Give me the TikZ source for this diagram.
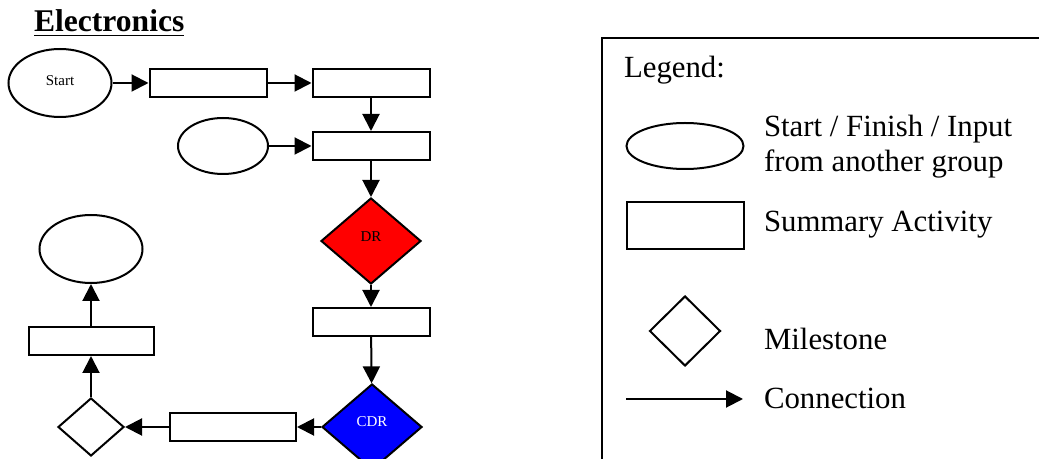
\documentclass[tikz,border=0pt]{standalone}
\usepackage{fontspec}
\setmainfont{Liberation Serif}
\usetikzlibrary{shapes.geometric,arrows.meta}

\begin{document}
\begin{tikzpicture}[
	                   x = 0.5pt,
	                   y = -0.5pt,
	         line width = 1pt,
	     terminal/.style = {draw, ellipse, inner sep=0pt, minimum width=51.5pt, minimum height=34pt},
	     activity/.style = {draw, rectangle, inner sep=0pt, minimum width=58.5pt, minimum height=14pt},
	    milestone/.style = {draw, diamond, inner sep=0pt, minimum width=50pt, minimum height=43pt},
	         conn/.style = {-{Triangle[length=8.5pt,width=8.5pt]}},
	       legtext/.style = {anchor=base west, inner sep=0pt, font=\fontsize{15.4}{17.5}\selectfont}
	                     ]
		\clip (0,0) rectangle (1039,459);
		\node[anchor=base west, inner sep=0pt, font=\fontsize{15.8}{18}\selectfont\bfseries] (title) at (33,32) {\underline{Electronics}};

		\node[terminal, font=\fontsize{7.5}{9}\selectfont] (start) at (60,83) {\raisebox{2pt}{Start}};
		\node[activity] (a1) at (208,83) {};
		\node[activity] (a2) at (371,83) {};
		\node[terminal, minimum width=45pt, minimum height=28pt] (input) at (223,146) {};
		\node[activity] (a3) at (371,146) {};
		\node[milestone, fill=red, font=\fontsize{7.5}{9}\selectfont] (dr) at (371,241) {\raisebox{4.5pt}{DR}};
		\node[activity] (a4) at (371,322) {};
		\node[milestone, fill=blue, text=white, font=\fontsize{7.5}{9}\selectfont] (cdr) at (372,427) {\raisebox{5pt}{CDR}};
		\node[activity, minimum width=63pt] (a5) at (233,427) {};
		\node[milestone, minimum width=33pt, minimum height=29pt] (ms) at (91,427) {};
		\node[activity, minimum width=62.5pt] (a6) at (91,341) {};
		\node[terminal] (finish) at (91,249) {};

		\draw[conn] (start) -- (a1);
		\draw[conn] (a1) -- (a2);
		\draw[conn] (a2) -- (a3);
		\draw[conn] (input) -- (a3);
		\draw[conn] (a3) -- (dr);
		\draw[conn] (dr) -- (a4);
		\draw[conn] (a4) -- (cdr);
		\draw[conn] (cdr) -- (a5);
		\draw[conn] (a5) -- (ms);
		\draw[conn] (ms) -- (a6);
		\draw[conn] (a6) -- (finish);

		% legend
		\draw (602,38) rectangle (1080,500);
		\node[legtext] (legend) at (623,78) {Legend:};
		\node[terminal, minimum width=58.5pt, minimum height=23pt] (lterm) at (685,146) {};
		\node[legtext, align=left] (tterm) at (763,172) {Start / Finish / Input\\from another group};
		\node[activity, minimum height=23.5pt] (lact) at (685,226) {};
		\node[legtext] (tact) at (763,232) {Summary Activity};
		\node[milestone, minimum width=35.5pt, minimum height=35pt] (lms) at (685,331) {};
		\node[legtext] (tms) at (763,350) {Milestone};
		\coordinate (c0) at (626,399);
		\coordinate (c1) at (743,399);
		\draw[conn] (c0) -- (c1);
		\node[legtext] (tconn) at (763,409) {Connection};
\end{tikzpicture}
\end{document}
